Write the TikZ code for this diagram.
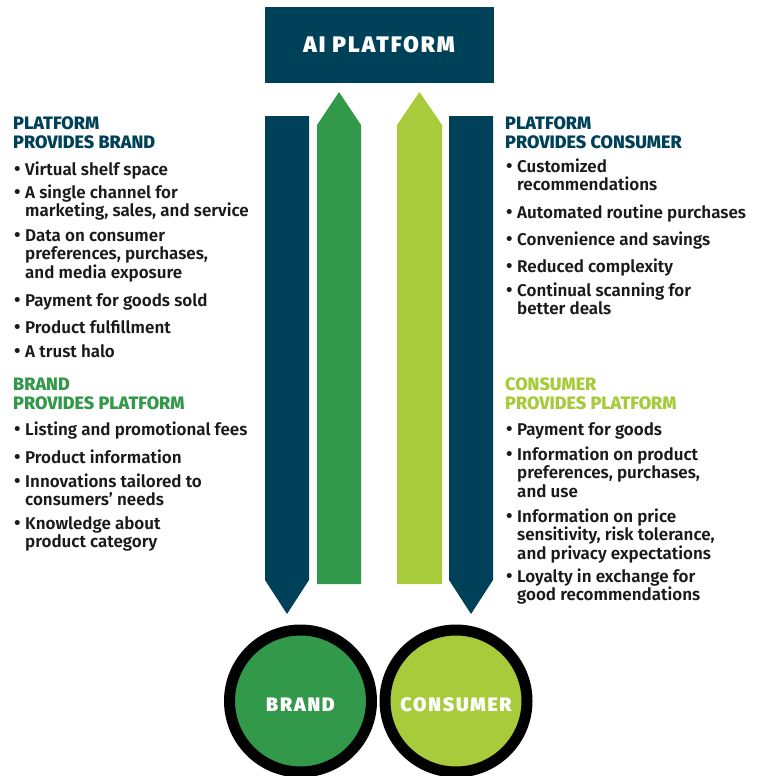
\documentclass[tikz,border=0pt]{standalone}
\usepackage{fontspec}
\setmainfont{Fira Sans}[UprightFont={* SemiBold}, BoldFont={* ExtraBold}]
\newfontfamily\heavyfont{Fira Sans Black}[LetterSpace=9]
\definecolor{navy}{HTML}{00415A}
\definecolor{leaf}{HTML}{33994A}
\definecolor{lime}{HTML}{A7CB3A}
\definecolor{ink}{HTML}{1A1A1A}
\newcommand\bitem[4]{\node[item] (#1) at (#2,#3) {\parbox[t]{260pt}{\raggedright\leavevmode\llap{{\fontsize{19}{19}\selectfont\textbullet}\hspace{4.5pt}}#4}};}
\newcommand\heading[5]{\node[head, text=#5] (#1) at (#2,#3) {\parbox[t]{260pt}{\raggedright #4}};}
\begin{document}
\begin{tikzpicture}[x=1pt, y=-1pt,
  item/.style={anchor=base west, inner sep=0pt, text=ink, font=\fontsize{17}{18.5}\selectfont},
  head/.style={anchor=base west, inner sep=0pt, font=\bfseries\fontsize{18}{19}\selectfont},
  titlebox/.style={fill=navy, text=white, minimum width=229pt, minimum height=75pt, inner sep=0pt, font=\heavyfont\fontsize{22.5}{24}\selectfont},
  ring/.style={circle, draw=black, line width=11pt, minimum size=142pt, inner sep=0pt},
  ringlabel/.style={inner sep=0pt, text=white, font=\heavyfont\fontsize{19.5}{20}\selectfont}]
\useasboundingbox (0,0) rectangle (765,776);

% platform box
\node[titlebox] (ai) at (379,45) {AI PLATFORM};

% flow arrows
\fill[navy] (265,116) -- (309,116) -- (309,580) -- (287,614) -- (265,580) -- cycle;
\fill[leaf] (317,584) -- (317,125) -- (339,92) -- (361,125) -- (361,584) -- cycle;
\fill[lime] (397,584) -- (397,125) -- (419.5,92) -- (442,125) -- (442,584) -- cycle;
\fill[navy] (449,116) -- (493,116) -- (493,580) -- (471,614) -- (449,580) -- cycle;

% parties
\node[ring, fill=leaf] (brand) at (300.5,701) {};
\node[ring, fill=lime] (consumer) at (456,701) {};
\node[ringlabel] (brandtext) at ([yshift=-4pt]brand.center) {BRAND};
\node[ringlabel] (consumertext) at ([yshift=-4pt]consumer.center) {CONSUMER};

% left column
\heading{h1}{13}{129}{PLATFORM\\PROVIDES BRAND}{navy}
\bitem{a1}{25}{175}{Virtual shelf space}
\bitem{a2}{25}{198}{A single channel for\\marketing, sales, and service}
\bitem{a3}{25}{241}{Data on consumer\\preferences, purchases,\\and media exposure}
\bitem{a4}{25}{306}{Payment for goods sold}
\bitem{a5}{25}{333}{Product fulfillment}
\bitem{a6}{25}{357}{A trust halo}

\heading{h2}{13}{390}{BRAND\\PROVIDES PLATFORM}{leaf}
\bitem{b1}{25}{435}{Listing and promotional fees}
\bitem{b2}{25}{463}{Product information}
\bitem{b3}{25}{487}{Innovations tailored to\\consumers’ needs}
\bitem{b4}{25}{529}{Knowledge about\\product category}

% right column
\heading{h3}{505}{129}{PLATFORM\\PROVIDES CONSUMER}{navy}
\bitem{c1}{517}{172}{Customized\\recommendations}
\bitem{c2}{517}{218}{Automated routine purchases}
\bitem{c3}{517}{245}{Convenience and savings}
\bitem{c4}{517}{272}{Reduced complexity}
\bitem{c5}{517}{296}{Continual scanning for\\better deals}

\heading{h4}{505}{390}{CONSUMER\\PROVIDES PLATFORM}{lime}
\bitem{d1}{517}{435}{Payment for goods}
\bitem{d2}{517}{460}{Information on product\\preferences, purchases,\\and use}
\bitem{d3}{517}{522}{Information on price\\sensitivity, risk tolerance,\\and privacy expectations}
\bitem{d4}{517}{582}{Loyalty in exchange for\\good recommendations}
\end{tikzpicture}
\end{document}
